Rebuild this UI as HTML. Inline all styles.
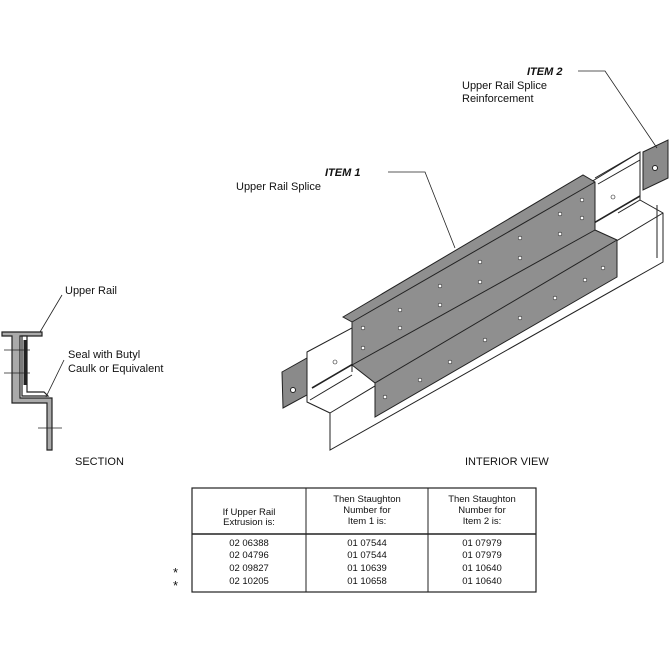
<!DOCTYPE html>
<html><head><style>
body{margin:0;background:#fff;width:671px;height:671px;overflow:hidden}
svg{display:block}
text{font-family:"Liberation Sans",sans-serif;fill:#111}
</style></head><body>
<svg width="671" height="671" viewBox="0 0 671 671" xmlns="http://www.w3.org/2000/svg">
<!-- Section -->
<g stroke="#222" stroke-width="1.2" fill="#aaa">
<path d="M2,332 L42,332 L42,336 L20,336 L20,398 L52,398 L52,450 L47,450 L47,403 L12,403 L12,336 L2,336 Z"/>
<path d="M22,336 L27,336 L27,392 L44,392 L48,396 L22,396 Z" fill="#fff"/>
<line x1="25" y1="340" x2="25" y2="385" stroke-width="3"/>
</g>
<g stroke="#222" stroke-width="0.8" fill="none">
<line x1="4" y1="350" x2="30" y2="350"/><line x1="4" y1="373" x2="30" y2="373"/>
<line x1="38" y1="428" x2="62" y2="428"/>
<line x1="40" y1="332" x2="62" y2="295"/>
<line x1="46" y1="397" x2="64" y2="360"/>
</g>
<text x="65" y="294" font-size="11">Upper Rail</text>
<text x="68" y="358" font-size="11">Seal with Butyl</text>
<text x="68" y="372" font-size="11">Caulk or Equivalent</text>
<text x="75" y="465" font-size="11">SECTION</text>

<!-- Interior view rail -->
<g stroke="#222" stroke-width="1" fill="#fff">
<path d="M307,352 L352,328 L640,152 L640,200 L663,213 L663,262 L330,450 L330,413 L307,402 Z"/>
<line x1="352" y1="328" x2="352" y2="372"/>
<line x1="310" y1="400" x2="352" y2="375"/>
<line x1="330" y1="413" x2="663" y2="213"/>
<line x1="312" y1="388" x2="640" y2="196" stroke-width="1.6"/>
<line x1="640" y1="200" x2="618" y2="213"/>
<line x1="595" y1="178" x2="640" y2="152"/>
<line x1="598" y1="184" x2="640" y2="160"/>
<line x1="657" y1="205" x2="657" y2="258"/>
</g>
<path d="M282,372 L307,358 L307,395 L283,408 Z" fill="#8a8a8a" stroke="#222"/>
<path d="M643,152 L668,140 L668,178 L643,190 Z" fill="#8a8a8a" stroke="#222"/>
<circle cx="293" cy="390" r="2.5" fill="#fff" stroke="#222"/>
<circle cx="655" cy="168" r="2.5" fill="#fff" stroke="#222"/>
<!-- Item1 splice -->
<path d="M343,317 L583,175 L595,182 L595,230 L617,240 L617,277 L375,417 L375,383 L352,365 L352,322 Z" fill="#8f8f8f" stroke="#222"/>
<line x1="352" y1="322" x2="595" y2="182" stroke="#222"/>
<line x1="352" y1="365" x2="595" y2="230" stroke="#222"/>
<line x1="375" y1="383" x2="617" y2="240" stroke="#222"/>
<g fill="#fff" stroke="#222" stroke-width="0.6">
<circle cx="363" cy="328" r="1.8"/><circle cx="400" cy="310" r="1.8"/><circle cx="440" cy="286" r="1.8"/><circle cx="480" cy="262" r="1.8"/><circle cx="520" cy="238" r="1.8"/><circle cx="560" cy="214" r="1.8"/><circle cx="582" cy="200" r="1.8"/>
<circle cx="363" cy="348" r="1.8"/><circle cx="400" cy="328" r="1.8"/><circle cx="440" cy="305" r="1.8"/><circle cx="480" cy="282" r="1.8"/><circle cx="520" cy="258" r="1.8"/><circle cx="560" cy="234" r="1.8"/><circle cx="582" cy="218" r="1.8"/>
<circle cx="385" cy="397" r="1.8"/><circle cx="420" cy="380" r="1.8"/><circle cx="450" cy="362" r="1.8"/><circle cx="485" cy="340" r="1.8"/><circle cx="520" cy="318" r="1.8"/><circle cx="555" cy="298" r="1.8"/><circle cx="585" cy="280" r="1.8"/><circle cx="603" cy="268" r="1.8"/>
<circle cx="335" cy="362" r="2"/><circle cx="613" cy="197" r="2"/>
</g>
<g stroke="#222" stroke-width="0.8" fill="none">
<polyline points="388,172 425,172 455,248"/>
<polyline points="578,71 605,71 657,148"/>
</g>
<text x="325" y="176" font-size="11" font-weight="bold" font-style="italic">ITEM 1</text>
<text x="236" y="190" font-size="11">Upper Rail Splice</text>
<text x="527" y="75" font-size="11" font-weight="bold" font-style="italic">ITEM 2</text>
<text x="462" y="89" font-size="11">Upper Rail Splice</text>
<text x="462" y="102" font-size="11">Reinforcement</text>
<text x="465" y="465" font-size="11">INTERIOR VIEW</text>

<!-- Table -->
<g stroke="#222" fill="none">
<rect x="192" y="488" width="344" height="104" stroke-width="1.2"/>
<line x1="306" y1="488" x2="306" y2="592"/>
<line x1="428" y1="488" x2="428" y2="592"/>
<line x1="192" y1="534" x2="536" y2="534" stroke-width="1.5"/>
</g>
<g font-size="9.5" text-anchor="middle">
<text x="249" y="515">If Upper Rail</text><text x="249" y="525">Extrusion is:</text>
<text x="367" y="502">Then Staughton</text><text x="367" y="513">Number for</text><text x="367" y="524">Item 1 is:</text>
<text x="482" y="502">Then Staughton</text><text x="482" y="513">Number for</text><text x="482" y="524">Item 2 is:</text>
<text x="249" y="546">02 06388</text><text x="367" y="546">01 07544</text><text x="482" y="546">01 07979</text>
<text x="249" y="558">02 04796</text><text x="367" y="558">01 07544</text><text x="482" y="558">01 07979</text>
<text x="249" y="571">02 09827</text><text x="367" y="571">01 10639</text><text x="482" y="571">01 10640</text>
<text x="249" y="584">02 10205</text><text x="367" y="584">01 10658</text><text x="482" y="584">01 10640</text>
</g>
<text x="173" y="577" font-size="13">*</text>
<text x="173" y="590" font-size="13">*</text>
</svg>
</body></html>
